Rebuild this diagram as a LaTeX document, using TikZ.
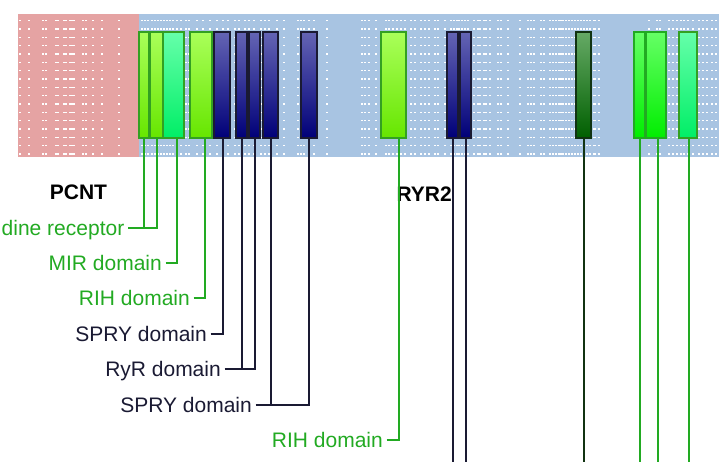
\documentclass[tikz,border=0pt]{standalone}
\usepackage{fontspec}
\setmainfont{Liberation Sans}
\definecolor{pinkbg}{HTML}{E5A3A3}
\definecolor{bluebg}{HTML}{A8C4E2}
\definecolor{lgreen}{HTML}{22AA22}
\definecolor{navy}{HTML}{1A1A33}
\definecolor{dkg}{HTML}{113311}
\definecolor{limeT}{HTML}{AAFF5A}
\definecolor{limeB}{HTML}{66E600}
\definecolor{springT}{HTML}{66FFAA}
\definecolor{springB}{HTML}{00EE66}
\definecolor{navyT}{HTML}{6464B4}
\definecolor{navyB}{HTML}{000078}
\definecolor{dkgT}{HTML}{66AA66}
\definecolor{dkgB}{HTML}{005F00}
\definecolor{grT}{HTML}{66FF66}
\definecolor{grB}{HTML}{00EE00}
\definecolor{boxedge}{HTML}{33A022}
\tikzset{
  box/.style={inner sep=0pt, outer sep=0pt, minimum height=106pt, line width=1.3pt},
  limebox/.style={box, draw=boxedge, top color=limeT, bottom color=limeB},
  springbox/.style={box, draw=boxedge, top color=springT, bottom color=springB},
  navybox/.style={box, draw=navy, top color=navyT, bottom color=navyB},
  dkgbox/.style={box, draw=dkg, top color=dkgT, bottom color=dkgB},
  grbox/.style={box, draw=lgreen, top color=grT, bottom color=grB},
  lbl/.style={font=\fontsize{21}{25}\selectfont, anchor=east, inner sep=0pt, text height=15pt, text depth=0pt},
  ttl/.style={font=\fontsize{21}{25}\selectfont\bfseries, inner sep=0pt, text height=15pt, text depth=0pt},
  gl/.style={draw=lgreen, line width=2pt},
  nl/.style={draw=navy, line width=2pt},
  dl/.style={draw=dkg, line width=2pt},
}
\begin{document}
\begin{tikzpicture}[x=1pt, y=-1pt]
\useasboundingbox (0,0) rectangle (719,462);
% background bands
\fill[pinkbg] (18,14) rectangle (139,157);
\fill[bluebg] (139,14) rectangle (719,157);
\foreach \k in {0,...,16}{
  \foreach \x in {19,28,42,45,55,57,63,65,69,71,73,82,85,92,101,118,
     141,144,147,151,154,157,160,163,166,169,172,176,180,185,188,196,202,209,216,222,227,234,238,244,248,253,260,264,268,276,283,297,300,303,308,313,326,
     361,364,368,375,385,388,392,396,400,404,410,414,420,424,428,434,437,444,450,453,456,458,461,464,467,473,477,479,483,485,489,497,500,507,519,527,530,533,540,543,549,552,555,558,560,562,565,568,571,574,577,580,583,586,589,593,594,598,648,656,659,668,672,676,680,683,687,692,698,702,706,711,715}{
    \fill[white] (\x,{20+8.33*\k}) rectangle ++(1.5,1.5);
  }
}
% domain boxes
\node[limebox, minimum width=10pt] (b1) at (144,85) {};
\node[limebox, minimum width=13pt] (b2) at (156.5,85) {};
\node[springbox, minimum width=21pt] (b3) at (173.5,85) {};
\node[limebox, minimum width=22pt] (b4) at (201,85) {};
\node[navybox, minimum width=16pt] (b5) at (222,85) {};
\node[navybox, minimum width=11pt] (b6) at (241.5,85) {};
\node[navybox, minimum width=11pt] (b7) at (254.5,85) {};
\node[navybox, minimum width=15pt] (b8) at (270.5,85) {};
\node[navybox, minimum width=16pt] (b9) at (309,85) {};
\node[limebox, minimum width=25pt] (b10) at (393.5,85) {};
\node[navybox, minimum width=11pt] (b11) at (452.5,85) {};
\node[navybox, minimum width=11pt] (b12) at (465.5,85) {};
\node[dkgbox, minimum width=15pt] (b13) at (583.5,85) {};
\node[grbox, minimum width=11pt] (b14) at (639.5,85) {};
\node[grbox, minimum width=20pt] (b15) at (656,85) {};
\node[springbox, minimum width=18pt] (b16) at (688,85) {};
% titles
\node[ttl] (pcnt) at (78.5,192) {PCNT};
\node[ttl, anchor=east] (ryr2) at (452,193.5) {RYR2};
% labels
\node[lbl, text=lgreen] (l1) at (124.5,228) {dine receptor};
\node[lbl, text=lgreen] (l2) at (162,262.5) {MIR domain};
\node[lbl, text=lgreen] (l3) at (190,298) {RIH domain};
\node[lbl, text=navy] (l4) at (207,333.5) {SPRY domain};
\node[lbl, text=navy] (l5) at (221,369) {RyR domain};
\node[lbl, text=navy] (l6) at (252,405) {SPRY domain};
\node[lbl, text=lgreen] (l7) at (383,440) {RIH domain};
\coordinate (bot) at (0,463);
% connectors
\draw[gl] ([xshift=3.5pt]l1.east) -| (b2.south);
\draw[gl] (b1.south) -- (b1.south |- l1.east);
\draw[gl] ([xshift=3.5pt]l2.east) -| ([xshift=3pt]b3.south);
\draw[gl] ([xshift=3.5pt]l3.east) -| ([xshift=4pt]b4.south);
\draw[nl] ([xshift=3.5pt]l4.east) -| ([xshift=1pt]b5.south);
\draw[nl] ([xshift=3.5pt]l5.east) -| (b7.south);
\draw[nl] (b6.south) -- (b6.south |- l5.east);
\draw[nl] ([xshift=3.5pt]l6.east) -| (b9.south);
\draw[nl] (b8.south) -- (b8.south |- l6.east);
\draw[gl] ([xshift=3.5pt]l7.east) -| ([xshift=5.5pt]b10.south);
\draw[nl] (b11.south) -- (b11.south |- bot);
\draw[nl] (b12.south) -- (b12.south |- bot);
\draw[dl] (b13.south) -- (b13.south |- bot);
\draw[gl] (b14.south) -- (b14.south |- bot);
\draw[gl] ([xshift=2pt]b15.south) -- ([xshift=2pt]b15.south |- bot);
\draw[gl] ([xshift=1pt]b16.south) -- ([xshift=1pt]b16.south |- bot);
\end{tikzpicture}
\end{document}
